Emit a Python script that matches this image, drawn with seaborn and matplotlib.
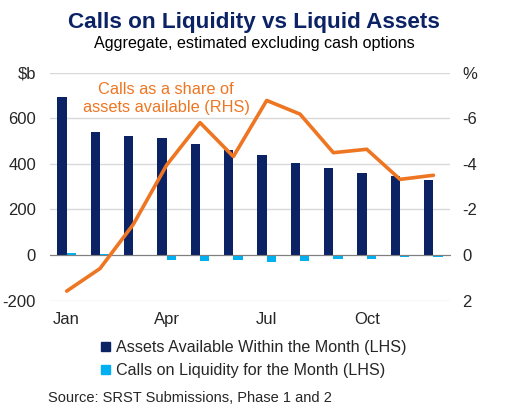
import numpy as np
import pandas as pd
import seaborn as sns
import matplotlib.pyplot as plt
from matplotlib.patches import Patch

months = ['Jan', 'Feb', 'Mar', 'Apr', 'May', 'Jun', 'Jul', 'Aug', 'Sep', 'Oct', 'Nov', 'Dec']
assets = [691, 539, 521, 515, 486, 461, 438, 404, 381, 359, 348, 329]
calls = [10, 3, -5, -20, -28, -20, -30, -25, -17, -17, -10, -10]
share = [1.58, 0.59, -1.35, -3.95, -5.81, -4.32, -6.78, -6.18, -4.49, -4.64, -3.32, -3.5]

asset_lbl = 'Assets Available Within the Month (LHS)'
calls_lbl = 'Calls on Liquidity for the Month (LHS)'
navy = '#0B2265'
light = '#00B0F0'
orange = '#EE7623'

sns.set_style('white')
plt.rcParams['font.family'] = ['Liberation Sans', 'DejaVu Sans']

df = pd.DataFrame({
    'month': months * 2,
    'value': assets + calls,
    'series': [asset_lbl] * 12 + [calls_lbl] * 12,
})

fig = plt.figure(figsize=(5.08, 4.15), dpi=100)
ax = fig.add_axes([0.0984, 0.2754, 0.886 - 0.0984, 0.825 - 0.2754])

sns.barplot(data=df, x='month', y='value', hue='series', order=months,
            palette=[navy, light], width=0.56, gap=0, saturation=1,
            edgecolor='none', linewidth=0, ax=ax, legend=False)

ax.set_xlim(-0.5, 11.5)
ax.set_ylim(-200, 800)
ax.set_yticks(range(-200, 801, 200))
ax.set_yticklabels(['-200', '0', '200', '400', '600', '$b'])
ax.grid(axis='y', color='#D9D9D9', lw=1)
ax.set_axisbelow(True)
for s in ['top', 'left', 'right']:
    ax.spines[s].set_visible(False)
ax.spines['bottom'].set_position(('data', 0))
ax.spines['bottom'].set_color('#7F7F7F')
ax.set_xticks(range(0, 12, 3))
ax.set_xticklabels(months[::3])
ax.set_xticks(np.arange(-0.5, 12, 3), minor=True)
ax.tick_params(axis='x', which='major', length=0, pad=41, labelsize=12)
ax.tick_params(axis='x', which='minor', length=4, direction='in', color='#7F7F7F')
ax.tick_params(axis='y', length=0, pad=10, labelsize=12)
ax.set_xlabel('')
ax.set_ylabel('')

ax2 = ax.twinx()
sns.lineplot(x=np.arange(len(months)), y=share, color=orange, lw=2.6, ax=ax2)
ax2.set_ylim(2, -8)
ax2.set_yticks(range(2, -9, -2))
ax2.set_yticklabels(['2', '0', '-2', '-4', '-6', '%'])
ax2.tick_params(axis='y', length=0, pad=9, labelsize=12)
for s in ax2.spines.values():
    s.set_visible(False)

ax.text(0.29, 0.887, 'Calls as a share of\nassets available (RHS)', transform=ax.transAxes,
        ha='center', va='center', color=orange, fontsize=11.8, linespacing=1.25)

fig.text(0.5, 0.945, 'Calls on Liquidity vs Liquid Assets', ha='center', va='center',
         fontsize=16.2, fontweight='bold', color=navy)
fig.text(0.5, 0.894, 'Aggregate, estimated excluding cash options', ha='center',
         va='center', fontsize=11.6, color='black')

handles = [Patch(color=navy, label=asset_lbl), Patch(color=light, label=calls_lbl)]
fig.legend(handles=handles, loc='upper center', bbox_to_anchor=(0.5, 0.2), frameon=False,
           fontsize=11.6, handlelength=0.55, handleheight=0.55, handletextpad=0.4,
           labelspacing=0.5, borderpad=0)

fig.text(0.094, 0.04, 'Source: SRST Submissions, Phase 1 and 2', ha='left', va='center',
         fontsize=10.5)

fig.savefig('out.png', dpi=100)
